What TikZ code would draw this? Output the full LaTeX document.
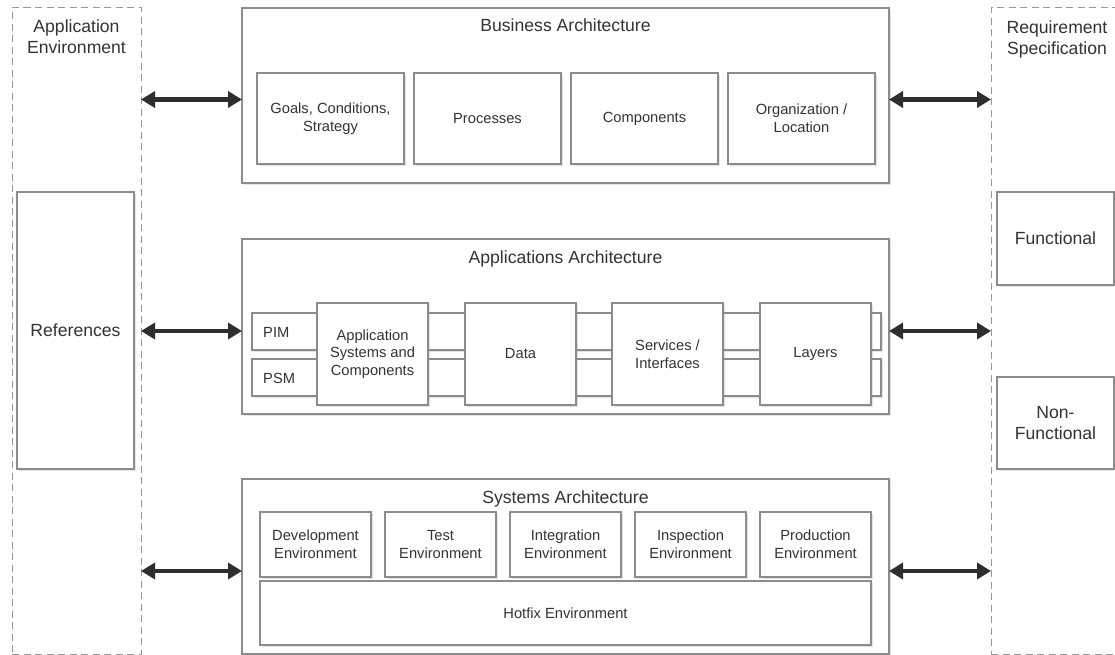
\documentclass[tikz,border=0pt]{standalone}
\usepackage{fontspec}
\setmainfont{Liberation Sans}
\usetikzlibrary{arrows.meta,shadows}
\definecolor{txt}{HTML}{333333}
\definecolor{edge}{HTML}{8C8C8C}
\definecolor{dashc}{HTML}{969696}
\definecolor{arrc}{HTML}{2E2E2E}
\begin{document}
\begin{tikzpicture}[x=1pt,y=-1pt,
  big/.style={font=\fontsize{17.6}{21}\selectfont, text=txt, align=center, inner sep=0pt},
  small/.style={font=\fontsize{14.7}{17.6}\selectfont, text=txt, align=center},
  wh/.style 2 args={minimum width=#1pt, minimum height=#2pt},
  shbox/.style={draw=edge, line width=1.1pt, fill=white, inner sep=0pt, outer sep=0pt,
    drop shadow={shadow xshift=1.6pt, shadow yshift=-1.6pt, opacity=0.22}},
  dbox/.style={draw=dashc, line width=1pt, dash pattern=on 7pt off 4.5pt, inner sep=0pt, outer sep=0pt},
  arr/.style={draw=arrc, line width=4.6pt, {Triangle[length=14pt,width=16pt]}-{Triangle[length=14pt,width=16pt]}}
]
\useasboundingbox (0,0) rectangle (1115,655);
\clip (0,0) rectangle (1115,655);

% side columns
\node[dbox, wh={129}{646}] (appenv) at (76.5,331) {};
\node[dbox, wh={132}{646}] (reqspec) at (1057,331) {};
\node[big, anchor=north] (appenvt) at (76.5,19.2) {Application\\Environment};
\node[big, anchor=north] (reqspect) at (1057,20.2) {Requirement\\Specification};

\node[shbox, big, wh={117}{277}] (refs) at (75.5,330.5) {References};
\node[shbox, big, wh={117}{93}] (func) at (1055.5,238.5) {Functional};
\node[shbox, big, wh={117}{92}] (nonfunc) at (1055.5,423) {Non-\\Functional};

% business architecture
\node[shbox, wh={647}{175}] (busi) at (565.5,95.5) {};
\node[big, anchor=base] (busit) at (565.5,32) {Business Architecture};
\node[shbox, small, wh={147}{91}] (goals) at (330.5,118.5) {Goals, Conditions,\\Strategy};
\node[shbox, small, wh={147}{91}] (proc) at (487.5,118.5) {Processes};
\node[shbox, small, wh={147}{91}] (comp) at (644.5,118.5) {Components};
\node[shbox, small, wh={147}{91}] (org) at (801.5,118.5) {Organization /\\Location};

% applications architecture
\node[shbox, wh={647}{175}] (apps) at (565.5,326.5) {};
\node[big, anchor=base] (appst) at (565.5,263) {Applications Architecture};
\node[shbox, wh={629}{37}] (pim) at (566.5,331.5) {};
\node[shbox, wh={629}{37}] (psm) at (566.5,377.5) {};
\node[small, anchor=base west, inner sep=0pt] (pimt) at (263,337) {PIM};
\node[small, anchor=base west, inner sep=0pt] (psmt) at (263,383) {PSM};
\node[shbox, small, wh={111}{102}] (appsys) at (372.5,354) {Application\\Systems and\\Components};
\node[shbox, small, wh={111}{102}] (data) at (520.5,354) {Data};
\node[shbox, small, wh={111}{102}] (serv) at (667.5,354) {Services /\\Interfaces};
\node[shbox, small, wh={111}{102}] (layers) at (815.5,354) {Layers};

% systems architecture
\node[shbox, wh={647}{175}] (sys) at (565.5,566.5) {};
\node[big, anchor=base] (syst) at (565.5,503) {Systems Architecture};
\node[shbox, small, wh={111}{65}] (dev) at (315.5,544.5) {Development\\Environment};
\node[shbox, small, wh={111}{65}] (test) at (440.5,544.5) {Test\\Environment};
\node[shbox, small, wh={111}{65}] (integ) at (565.5,544.5) {Integration\\Environment};
\node[shbox, small, wh={111}{65}] (insp) at (690.5,544.5) {Inspection\\Environment};
\node[shbox, small, wh={111}{65}] (prod) at (815.5,544.5) {Production\\Environment};
\node[shbox, small, wh={611}{64}] (hotfix) at (565.5,613) {Hotfix Environment};

% connectors
\coordinate (bw) at ([yshift=-4pt]busi.west);
\coordinate (be) at ([yshift=-4pt]busi.east);
\coordinate (aw) at ([yshift=-4.5pt]apps.west);
\coordinate (ae) at ([yshift=-4.5pt]apps.east);
\coordinate (sw) at ([yshift=-4.5pt]sys.west);
\coordinate (se) at ([yshift=-4.5pt]sys.east);
\draw[arr] (bw -| appenv.east) -- (bw);
\draw[arr] (aw -| appenv.east) -- (aw);
\draw[arr] (sw -| appenv.east) -- (sw);
\draw[arr] (be) -- (be -| reqspec.west);
\draw[arr] (ae) -- (ae -| reqspec.west);
\draw[arr] (se) -- (se -| reqspec.west);
\end{tikzpicture}
\end{document}
